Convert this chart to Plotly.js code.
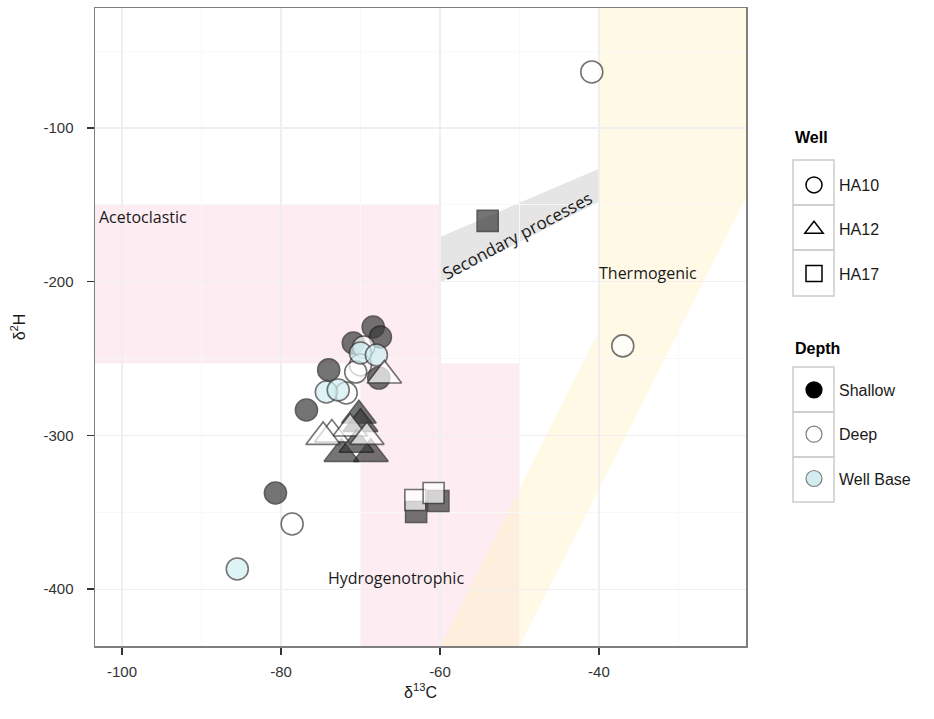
<!DOCTYPE html>
<html>
<head>
<meta charset="utf-8">
<script src="https://cdn.plot.ly/plotly-3.0.1.min.js"></script>
<style>html,body{margin:0;padding:0;background:#fff;}#chart{width:934px;height:719px;}</style>
</head>
<body>
<div id="chart"></div>
<script>
// ---- data ----
const wells = ['HA10', 'HA12', 'HA17'];
const depths = ['Shallow', 'Deep', 'Well Base'];

const pointWell = [
  'HA10','HA10','HA10','HA10','HA10','HA10','HA10','HA10','HA10','HA10',
  'HA10','HA10','HA10','HA10','HA10','HA10','HA10','HA10','HA10',
  'HA12','HA12','HA12','HA12','HA12','HA12','HA12','HA12','HA12','HA12',
  'HA17','HA17','HA17','HA17','HA17'
];
const pointDepth = [
  'Shallow','Shallow','Shallow','Deep','Well Base','Well Base','Deep','Deep','Shallow','Shallow',
  'Well Base','Well Base','Deep','Shallow','Shallow','Deep','Well Base','Deep','Deep',
  'Deep','Shallow','Deep','Deep','Shallow','Deep','Shallow','Shallow','Deep','Shallow',
  'Shallow','Deep','Shallow','Deep','Shallow'
];
const d13C = [
  -68.4,-67.5,-70.9,-69.6,-70.0,-68.0,-70.0,-70.6,-74.0,-67.7,
  -74.3,-72.8,-71.8,-76.8,-80.7,-78.6,-85.5,-40.9,-37.0,
  -67.0,-70.2,-73.6,-71.3,-70.0,-69.2,-68.7,-72.4,-74.7,-70.5,
  -54.0,-63.1,-63.0,-60.8,-60.2
];
const d2H = [
  -229.5,-236.0,-239.9,-242.5,-246.4,-247.7,-254.2,-258.8,-257.4,-262.7,
  -271.8,-270.5,-272.4,-283.5,-337.5,-357.6,-386.9,-63.6,-241.8,
  -261.0,-287.0,-299.5,-295.5,-292.5,-301.0,-312.0,-312.0,-301.0,-306.0,
  -160.5,-342.0,-349.8,-337.5,-342.7
];
const xTicks = [-100, -80, -60, -40];
const xTickText = ['-100', '-80', '-60', '-40'];
const yTicks = [-400, -300, -200, -100];
const yTickText = ['-400', '-300', '-200', '-100'];

// source regions (δ13C, δ2H)
const acetoclasticX = [-110, -60];
const acetoclasticY = [-150, -253];
const hydrogenoX = [-70, -50];
const hydrogenoY = [-253, -460];
const thermoX = [-62.2, -52.2, -15, -15, -40, -40];
const thermoY = [-460, -460, -79, 0, 0, -232];
const secondaryX = [-60, -60, -40, -40];
const secondaryY = [-200.5, -171, -126.5, -148];

// ---- styles ----
const symbolOf = {HA10: 'circle', HA12: 'triangle-up', HA17: 'square'};
const sizeOf = {HA10: 22, HA12: 30, HA17: 21};
const fillOf = {Shallow: '#3a3a3a', Deep: '#ffffff', 'Well Base': '#cfeef2'};
const lineOf = {Shallow: '#1a1a1a', Deep: '#3a3a3a', 'Well Base': '#3a3a3a'};

const traces = [];
wells.forEach(w => {
  depths.forEach(d => {
    const xs = [], ys = [];
    for (let i = 0; i < d13C.length; i++) {
      if (pointWell[i] === w && pointDepth[i] === d) { xs.push(d13C[i]); ys.push(d2H[i]); }
    }
    if (!xs.length) return;
    traces.push({
      type: 'scatter', mode: 'markers', x: xs, y: ys, showlegend: false, hoverinfo: 'x+y',
      marker: {symbol: symbolOf[w], size: sizeOf[w], color: fillOf[d], opacity: 0.7,
               line: {color: lineOf[d], width: 1.6}}
    });
  });
});
// legend entries
wells.forEach(w => {
  traces.push({type: 'scatter', mode: 'markers', x: [null], y: [null], name: w, legend: 'legend',
    legendgroup: 'w' + w,
    marker: {symbol: symbolOf[w], size: 16, color: '#ffffff', line: {color: '#000', width: 1.5}}});
});
const legendDepthFill = {Shallow: '#000000', Deep: '#ffffff', 'Well Base': '#d2ecf0'};
const legendDepthLine = {Shallow: '#000000', Deep: '#7f7f7f', 'Well Base': '#7f7f7f'};
depths.forEach(d => {
  traces.push({type: 'scatter', mode: 'markers', x: [null], y: [null], name: d, legend: 'legend2',
    legendgroup: 'd' + d,
    marker: {symbol: 'circle', size: 16, color: legendDepthFill[d], line: {color: legendDepthLine[d], width: 1.2}}});
});

function rectPath(xr, yr) {
  return `M ${xr[0]},${yr[0]} L ${xr[1]},${yr[0]} L ${xr[1]},${yr[1]} L ${xr[0]},${yr[1]} Z`;
}
function polyPath(xs, ys) {
  return 'M ' + xs.map((x, i) => x + ',' + ys[i]).join(' L ') + ' Z';
}

const pink = 'rgba(250,215,228,0.45)';
const shapes = [
  {type: 'path', xref: 'x', yref: 'y', path: rectPath(acetoclasticX, acetoclasticY), fillcolor: pink, line: {width: 0}, layer: 'below'},
  {type: 'path', xref: 'x', yref: 'y', path: rectPath(hydrogenoX, hydrogenoY), fillcolor: pink, line: {width: 0}, layer: 'below'},
  {type: 'path', xref: 'x', yref: 'y', path: polyPath(thermoX, thermoY), fillcolor: 'rgba(255,240,190,0.38)', line: {width: 0}, layer: 'below'},
  {type: 'path', xref: 'x', yref: 'y', path: polyPath(secondaryX, secondaryY), fillcolor: 'rgba(200,200,200,0.48)', line: {width: 0}, layer: 'below'}
];
// legend key boxes (paper coords)
const plotL = 95, plotR = 746, plotT = 8, plotB = 646;
function px2paperX(p) { return (p - plotL) / (plotR - plotL); }
function px2paperY(p) { return (plotB - p) / (plotB - plotT); }
[[160, 205], [205, 250], [250, 296], [367, 412], [412, 457], [457, 502]].forEach(b => {
  shapes.push({type: 'rect', xref: 'paper', yref: 'paper',
    x0: px2paperX(793), x1: px2paperX(834), y0: px2paperY(b[1]), y1: px2paperY(b[0]),
    line: {color: '#cccccc', width: 1.5}, fillcolor: 'rgba(255,255,255,0)', layer: 'above'});
});

const annFont = {family: 'Open Sans, DejaVu Sans, sans-serif', size: 16, color: '#1a1a1a'};
const legTitleFont = {family: 'Liberation Sans, Arial, sans-serif', size: 16, color: '#000'};
const annotations = [
  {x: -103.1, y: -158, xref: 'x', yref: 'y', text: 'Acetoclastic', showarrow: false, xanchor: 'left', yanchor: 'middle', font: annFont},
  {x: -40.2, y: -194.5, xref: 'x', yref: 'y', text: 'Thermogenic', showarrow: false, xanchor: 'left', yanchor: 'middle', font: annFont},
  {x: -65.5, y: -393, xref: 'x', yref: 'y', text: 'Hydrogenotrophic', showarrow: false, xanchor: 'center', yanchor: 'middle', font: annFont},
  {x: -50.3, y: -170, xref: 'x', yref: 'y', text: 'Secondary processes', showarrow: false, xanchor: 'center', yanchor: 'middle', textangle: -28, font: {family: annFont.family, size: 17, color: '#1a1a1a'}},
  {x: px2paperX(793), y: px2paperY(137), xref: 'paper', yref: 'paper', text: '<b>Well</b>', showarrow: false, xanchor: 'left', yanchor: 'middle', font: legTitleFont},
  {x: px2paperX(793), y: px2paperY(348), xref: 'paper', yref: 'paper', text: '<b>Depth</b>', showarrow: false, xanchor: 'left', yanchor: 'middle', font: legTitleFont}
];

const axFont = {family: 'Liberation Sans, Arial, sans-serif', size: 15, color: '#333333'};
const legFont = {size: 16, color: '#1a1a1a', family: 'Liberation Sans, Arial, sans-serif'};
const layout = {
  width: 934, height: 719,
  margin: {l: plotL, r: 934 - plotR, t: plotT, b: 719 - plotB},
  paper_bgcolor: '#ffffff', plot_bgcolor: '#ffffff',
  font: {family: 'Liberation Sans, Arial, sans-serif', size: 15, color: '#1a1a1a'},
  xaxis: {
    range: [-103.4, -21.5], tickmode: 'array', tickvals: xTicks, ticktext: xTickText,
    ticks: 'outside', ticklen: 7, tickwidth: 1.5, tickcolor: '#333',
    showgrid: true, gridcolor: '#efefef', gridwidth: 1.2, zeroline: false,
    minor: {dtick: 10, tick0: -100, showgrid: true, gridcolor: '#f8f8f8', gridwidth: 1, ticks: ''},
    showline: true, mirror: true, linecolor: '#7f7f7f', linewidth: 1.5,
    tickfont: axFont, ticklabelstandoff: 4,
    title: {text: 'δ<sup>13</sup>C', font: {family: 'Liberation Sans, Arial, sans-serif', size: 16, color: '#1a1a1a'}, standoff: 8}
  },
  yaxis: {
    range: [-437, -22], tickmode: 'array', tickvals: yTicks, ticktext: yTickText,
    ticks: 'outside', ticklen: 7, tickwidth: 1.5, tickcolor: '#333',
    showgrid: true, gridcolor: '#efefef', gridwidth: 1.2, zeroline: false,
    minor: {dtick: 50, tick0: -400, showgrid: true, gridcolor: '#f8f8f8', gridwidth: 1, ticks: ''},
    showline: true, mirror: true, linecolor: '#7f7f7f', linewidth: 1.5,
    tickfont: axFont, ticklabelstandoff: 10,
    title: {text: 'δ<sup>2</sup>H', font: {family: 'Liberation Sans, Arial, sans-serif', size: 16, color: '#1a1a1a'}, standoff: 14}
  },
  legend: {
    x: px2paperX(789), xanchor: 'left', y: px2paperY(168), yanchor: 'top', itemwidth: 40,
    font: legFont, tracegroupgap: 20.5, bgcolor: 'rgba(0,0,0,0)', itemclick: false, itemdoubleclick: false
  },
  legend2: {
    x: px2paperX(789), xanchor: 'left', y: px2paperY(373), yanchor: 'top', itemwidth: 40,
    font: legFont, tracegroupgap: 20.5, bgcolor: 'rgba(0,0,0,0)', itemclick: false, itemdoubleclick: false
  },
  shapes: shapes,
  annotations: annotations,
  showlegend: true
};

Plotly.newPlot('chart', traces, layout, {displayModeBar: false, staticPlot: true});
</script>
</body>
</html>
